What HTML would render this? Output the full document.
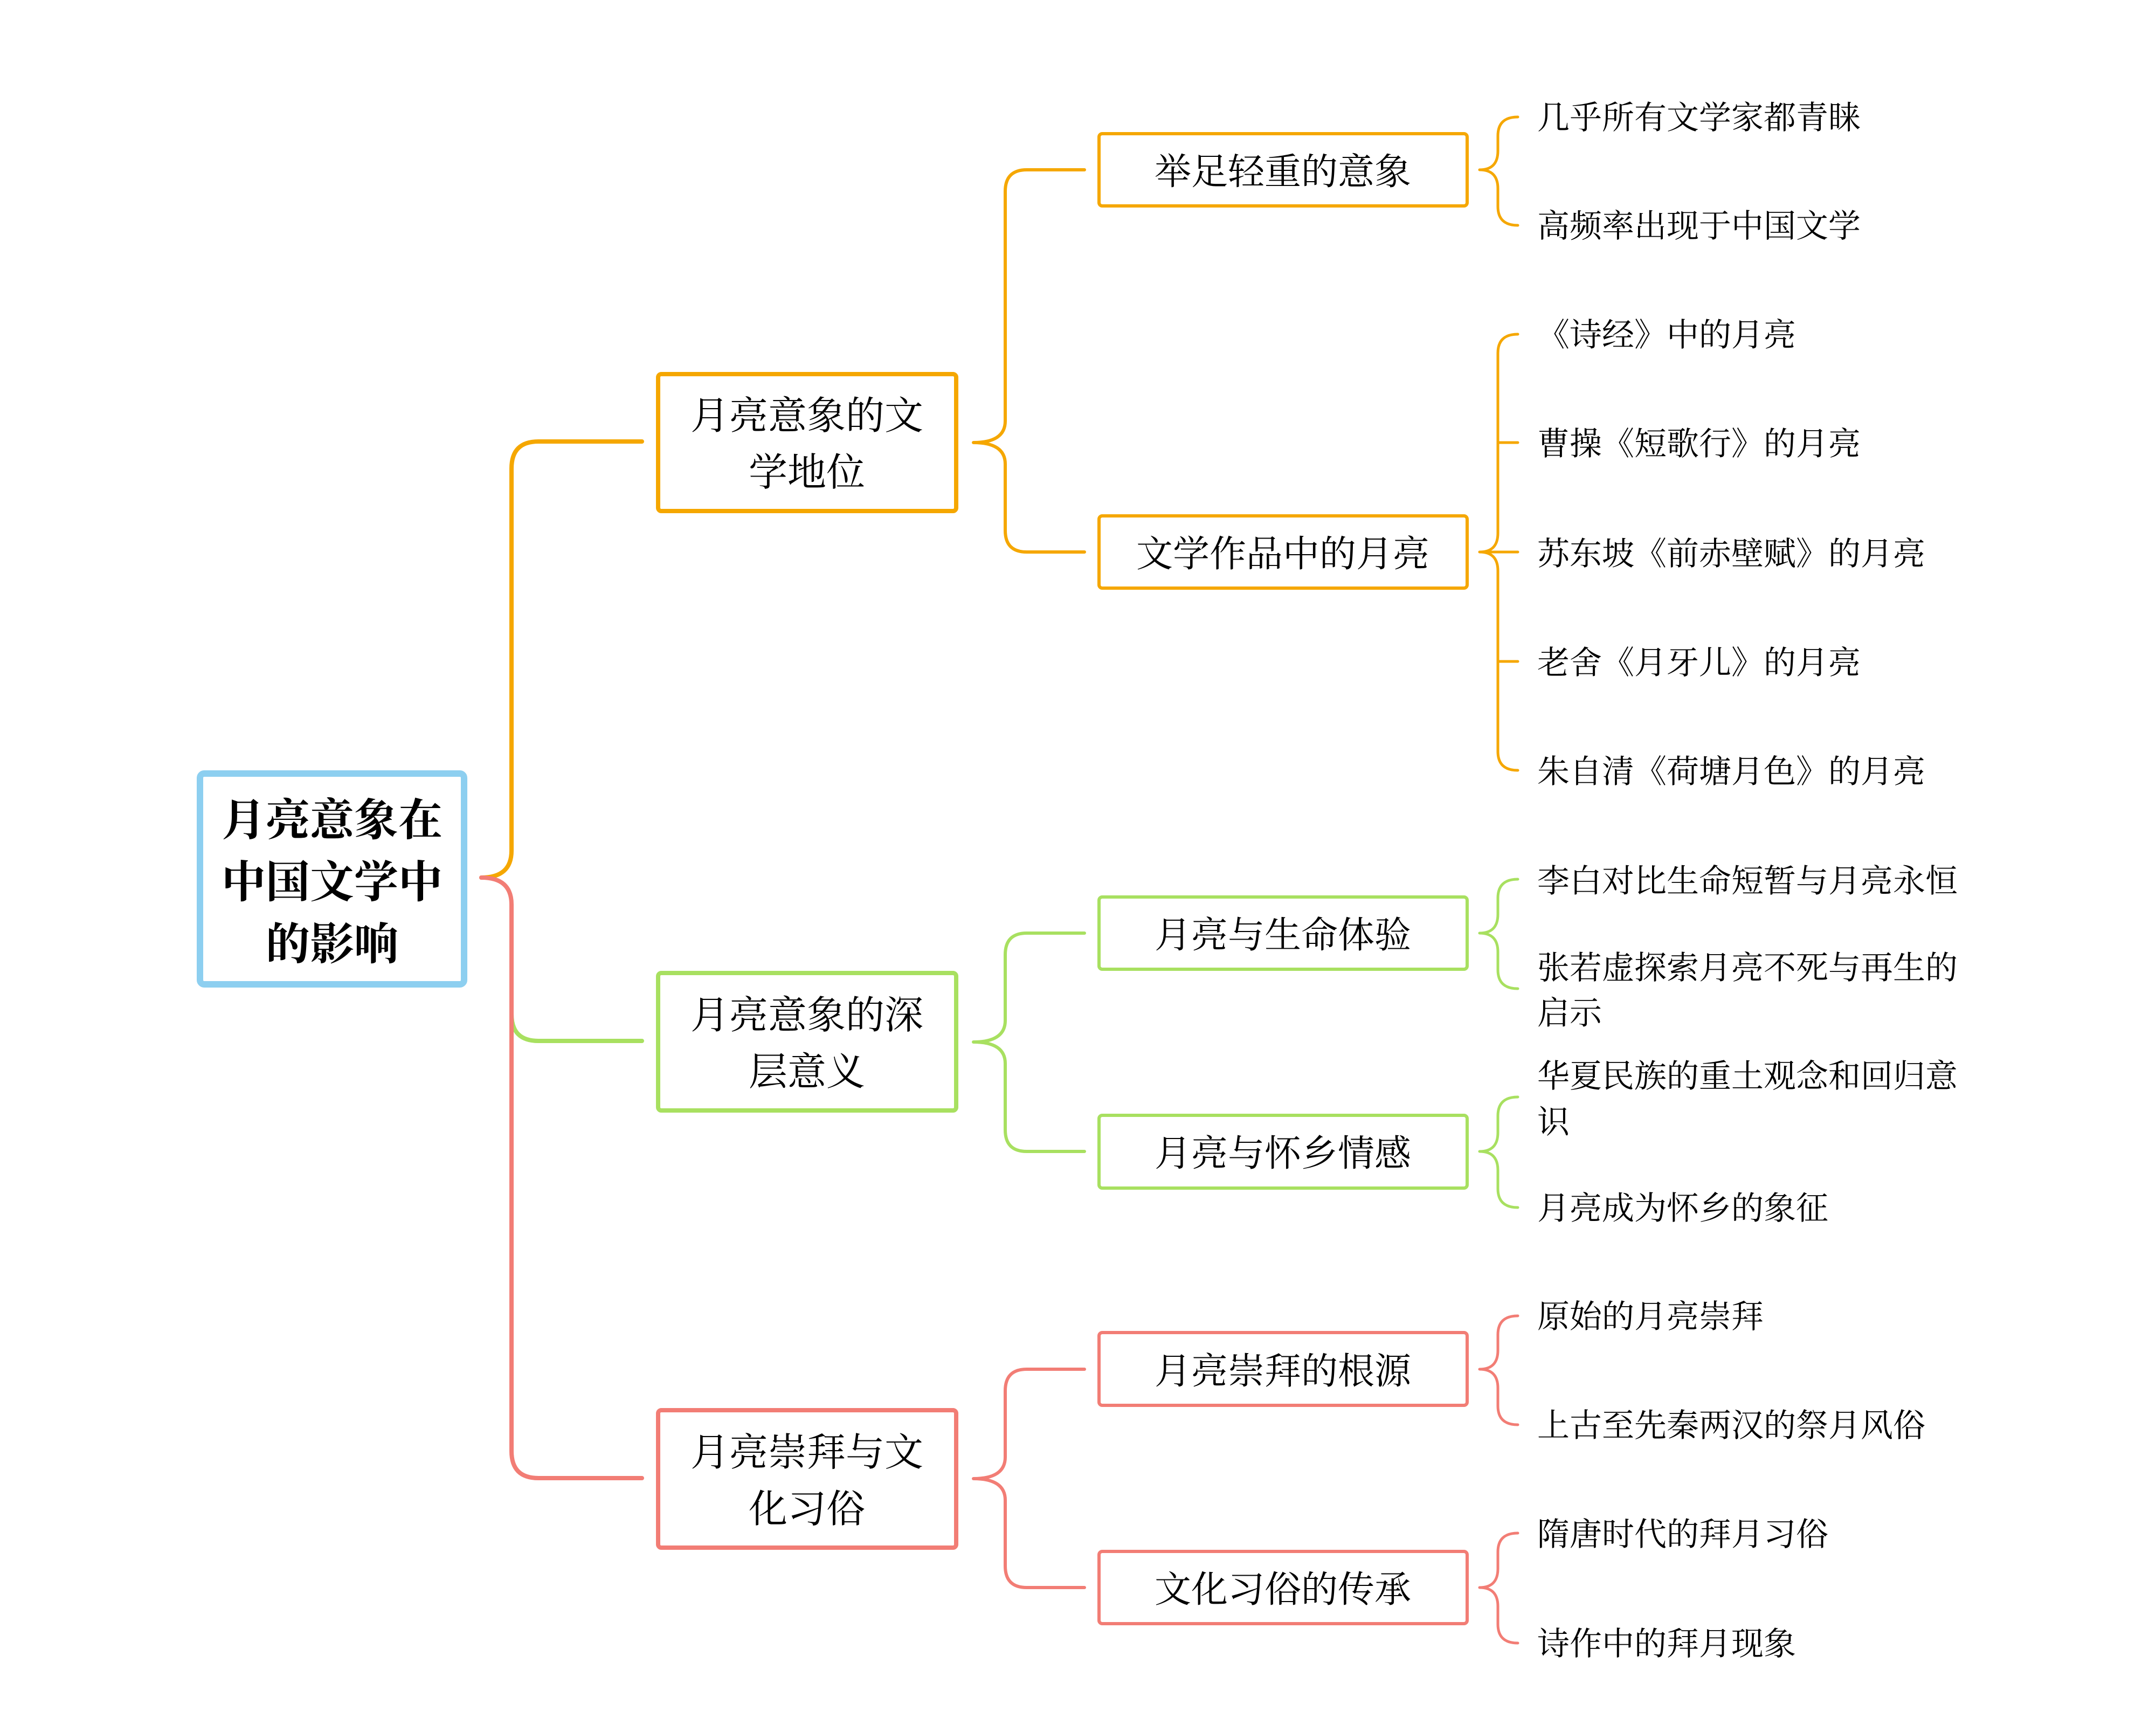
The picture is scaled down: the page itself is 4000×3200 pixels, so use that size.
<!DOCTYPE html>
<html><head><meta charset="utf-8"><style>
html,body{margin:0;padding:0;background:#fff;}
svg{display:block;}
text{font-family:"Liberation Serif","Noto Serif CJK SC","Noto Sans CJK SC",serif;fill:#000;}
</style></head><body>
<svg width="4000" height="3200" viewBox="0 0 4000 3200" xmlns="http://www.w3.org/2000/svg">
<rect width="4000" height="3200" fill="#fff"/>
<g fill="none" stroke-linecap="round" stroke-linejoin="round">
<path d="M893,1628 Q949,1628 949,1578 L949,869 Q949,819 999,819 L1191,819" stroke="#F5A700" stroke-width="8"/>
<path d="M949,1881 Q949,1931 999,1931 L1191,1931" stroke="#A8E060" stroke-width="8"/>
<path d="M893,1628 Q949,1628 949,1678 L949,2692 Q949,2742 999,2742 L1191,2742" stroke="#F27D75" stroke-width="8"/>
<path d="M1806,821 Q1865,821 1865,781 L1865,355 Q1865,315 1905,315 L2012,315 M1806,821 Q1865,821 1865,861 L1865,984 Q1865,1024 1905,1024 L2012,1024" stroke="#F5A700" stroke-width="6"/>
<path d="M1806,1933 Q1865,1933 1865,1893 L1865,1771 Q1865,1731 1905,1731 L2012,1731 M1806,1933 Q1865,1933 1865,1973 L1865,2096 Q1865,2136 1905,2136 L2012,2136" stroke="#A8E060" stroke-width="6"/>
<path d="M1806,2743 Q1865,2743 1865,2703 L1865,2580 Q1865,2540 1905,2540 L2012,2540 M1806,2743 Q1865,2743 1865,2783 L1865,2905 Q1865,2945 1905,2945 L2012,2945" stroke="#F27D75" stroke-width="6"/>
<g stroke-width="5">
<path d="M2745,315 Q2779,315 2779,280 L2779,252 Q2779,217 2816,217 M2745,315 Q2779,315 2779,350 L2779,383 Q2779,418 2816,418" stroke="#F5A700"/>
<path d="M2745,1024 Q2779,1024 2779,989 L2779,655 Q2779,620 2816,620 M2745,1024 L2816,1024 M2745,1024 Q2779,1024 2779,1059 L2779,1394 Q2779,1429 2816,1429 M2779,821 L2816,821 M2779,1227 L2816,1227" stroke="#F5A700"/>
<path d="M2745,1731 Q2779,1731 2779,1696 L2779,1666 Q2779,1631 2816,1631 M2745,1731 Q2779,1731 2779,1766 L2779,1799 Q2779,1834 2816,1834" stroke="#A8E060"/>
<path d="M2745,2136 Q2779,2136 2779,2101 L2779,2070 Q2779,2035 2816,2035 M2745,2136 Q2779,2136 2779,2171 L2779,2205 Q2779,2240 2816,2240" stroke="#A8E060"/>
<path d="M2745,2540 Q2779,2540 2779,2505 L2779,2476 Q2779,2441 2816,2441 M2745,2540 Q2779,2540 2779,2575 L2779,2608 Q2779,2643 2816,2643" stroke="#F27D75"/>
<path d="M2745,2945 Q2779,2945 2779,2910 L2779,2879 Q2779,2844 2816,2844 M2745,2945 Q2779,2945 2779,2980 L2779,3013 Q2779,3048 2816,3048" stroke="#F27D75"/>
</g>
<rect x="371" y="1435" width="490" height="391" rx="8" stroke="#8DCFF0" stroke-width="12"/>
<rect x="1221" y="694" width="553" height="254" rx="6" stroke="#F5A700" stroke-width="8"/>
<rect x="1221" y="1805" width="553" height="255" rx="6" stroke="#A8E060" stroke-width="8"/>
<rect x="1221" y="2616" width="553" height="255" rx="6" stroke="#F27D75" stroke-width="8"/>
<rect x="2039" y="248" width="683" height="134" rx="6" stroke="#F5A700" stroke-width="6"/>
<rect x="2039" y="957" width="683" height="134" rx="6" stroke="#F5A700" stroke-width="6"/>
<rect x="2039" y="1664" width="683" height="134" rx="6" stroke="#A8E060" stroke-width="6"/>
<rect x="2039" y="2069" width="683" height="135" rx="6" stroke="#A8E060" stroke-width="6"/>
<rect x="2039" y="2472" width="683" height="135" rx="6" stroke="#F27D75" stroke-width="6"/>
<rect x="2039" y="2878" width="683" height="134" rx="6" stroke="#F27D75" stroke-width="6"/>
</g>
<g text-anchor="middle" dominant-baseline="central">
<g font-size="82" font-weight="bold">
<text x="616" y="1522">月亮意象在</text>
<text x="616" y="1637">中国文学中</text>
<text x="616" y="1752">的影响</text>
</g>
<g font-size="72">
<text x="1497" y="772">月亮意象的文</text>
<text x="1497" y="877">学地位</text>
<text x="1497" y="1884">月亮意象的深</text>
<text x="1497" y="1989">层意义</text>
<text x="1497" y="2695">月亮崇拜与文</text>
<text x="1497" y="2800">化习俗</text>
</g>
<g font-size="68">
<text x="2380" y="319">举足轻重的意象</text>
<text x="2380" y="1028">文学作品中的月亮</text>
<text x="2380" y="1735">月亮与生命体验</text>
<text x="2380" y="2140">月亮与怀乡情感</text>
<text x="2380" y="2544">月亮崇拜的根源</text>
<text x="2380" y="2949">文化习俗的传承</text>
</g>
</g>
<g font-size="60" dominant-baseline="central">
<text x="2852" y="219">几乎所有文学家都青睐</text>
<text x="2852" y="420">高频率出现于中国文学</text>
<text x="2852" y="622">《诗经》中的月亮</text>
<text x="2852" y="824">曹操《短歌行》的月亮</text>
<text x="2852" y="1028">苏东坡《前赤壁赋》的月亮</text>
<text x="2852" y="1230">老舍《月牙儿》的月亮</text>
<text x="2852" y="1432">朱自清《荷塘月色》的月亮</text>
<text x="2852" y="1635">李白对比生命短暂与月亮永恒</text>
<text x="2852" y="1796">张若虚探索月亮不死与再生的</text>
<text x="2852" y="1880">启示</text>
<text x="2852" y="1997">华夏民族的重土观念和回归意</text>
<text x="2852" y="2082">识</text>
<text x="2852" y="2242">月亮成为怀乡的象征</text>
<text x="2852" y="2443">原始的月亮崇拜</text>
<text x="2852" y="2645">上古至先秦两汉的祭月风俗</text>
<text x="2852" y="2847">隋唐时代的拜月习俗</text>
<text x="2852" y="3050">诗作中的拜月现象</text>
</g>
</svg>
</body></html>
